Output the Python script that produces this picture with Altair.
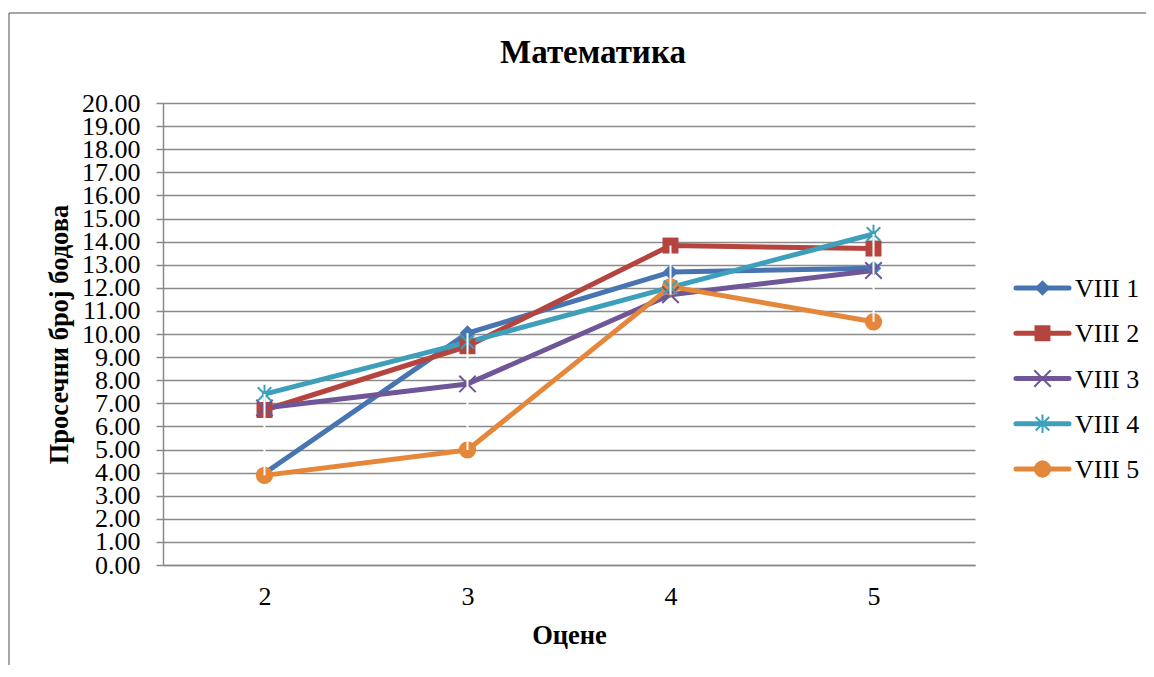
import altair as alt
import pandas as pd

grades = ["2", "3", "4", "5"]
series_names = ["VIII 1", "VIII 2", "VIII 3", "VIII 4", "VIII 5"]
viii_1 = [3.97, 10.04, 12.68, 12.85]
viii_2 = [6.71, 9.47, 13.83, 13.70]
viii_3 = [6.80, 7.84, 11.70, 12.75]
viii_4 = [7.40, 9.65, 12.02, 14.33]
viii_5 = [3.88, 4.98, 12.05, 10.53]
y_ticks = list(range(0, 21))
chart_title = ["Математика"]

colors = ["#4874B2", "#B5443F", "#6E5697", "#3E9FBA", "#E5873A"]
X_PATH = "M-1,-1L1,1M-1,1L1,-1"
AST_PATH = "M-0.8,-0.8L0.8,0.8M-0.8,0.8L0.8,-0.8M0,-1.1L0,1.1"
shapes = ["diamond", "square", X_PATH, AST_PATH, "circle"]
sizes = [240, 300, 220, 220, 400]

rows = []
for name, vals in zip(series_names, [viii_1, viii_2, viii_3, viii_4, viii_5]):
    for g, v in zip(grades, vals):
        rows.append({"grade": g, "value": v, "series": name})
df = pd.DataFrame(rows)
leg_df = pd.DataFrame({"series": series_names})
frame_df = pd.DataFrame({"title": chart_title})

FONT = "Liberation Serif"
GRID = "#8a8a8a"
LBL = 26
TTL = 26.5

color_scale = alt.Scale(domain=series_names, range=colors)
shape_scale = alt.Scale(domain=series_names, range=shapes)
size_scale = alt.Scale(domain=series_names, range=sizes)

x_axis = alt.Axis(title="Оцене", labelAngle=0, ticks=False, domainColor=GRID,
                  domainWidth=1.5, labelPadding=18, titlePadding=13,
                  labelFont=FONT, labelFontSize=LBL, labelColor="black",
                  titleFont=FONT, titleFontSize=TTL, titleFontWeight="bold",
                  titleColor="black", grid=False)
y_axis = alt.Axis(title="Просечни број бодова", values=y_ticks, format=".2f",
                  labelOverlap=False, labelBound=False,
                  grid=True, gridColor=GRID, gridWidth=1.5, domainColor=GRID,
                  domainWidth=1.5, tickColor=GRID, tickWidth=1.5, tickSize=7,
                  labelPadding=16, titlePadding=8, labelFont=FONT,
                  labelFontSize=LBL, labelColor="black", titleFont=FONT,
                  titleFontSize=TTL, titleFontWeight="bold", titleColor="black")
x_scale = alt.Scale(type="point", padding=0.5)
y_scale = alt.Scale(domain=[0, 20], nice=False, zero=True)


def xe():
    return alt.X("grade:O", sort=grades, scale=x_scale, axis=x_axis)


def ye(field="value"):
    return alt.Y(f"{field}:Q", scale=y_scale, axis=y_axis)


base = alt.Chart(df)
lines = base.mark_line(strokeWidth=5, strokeJoin="round", strokeCap="round").encode(
    x=xe(), y=ye(),
    color=alt.Color("series:N", scale=color_scale, legend=None),
    detail="series:N",
)
pts_filled = base.transform_filter(
    alt.FieldOneOfPredicate(field="series", oneOf=["VIII 1", "VIII 2", "VIII 5"])
).mark_point(filled=True, opacity=1).encode(
    x=xe(), y=ye(),
    color=alt.Color("series:N", scale=color_scale, legend=None),
    shape=alt.Shape("series:N", scale=shape_scale, legend=None),
    size=alt.Size("series:N", scale=size_scale, legend=None),
)
pts_stroked = base.transform_filter(
    alt.FieldOneOfPredicate(field="series", oneOf=["VIII 3", "VIII 4"])
).mark_point(filled=False, strokeWidth=2, opacity=1).encode(
    x=xe(), y=ye(),
    color=alt.Color("series:N", scale=color_scale, legend=None),
    shape=alt.Shape("series:N", scale=shape_scale, legend=None),
    size=alt.Size("series:N", scale=size_scale, legend=None),
)
hilo = base.transform_aggregate(
    lo="min(value)", hi="max(value)", groupby=["grade"]
).mark_rule(color="white", strokeWidth=2).encode(
    x=xe(), y=ye("lo"), y2="hi:Q"
)

main = alt.layer(lines, pts_filled, pts_stroked, hilo)

leg_y = alt.Y("series:N", sort=series_names,
              scale=alt.Scale(type="point", range=[185, 366], padding=0), axis=None)
leg_base = alt.Chart(leg_df)
leg_lines = leg_base.mark_rule(strokeWidth=5, strokeCap="round").encode(
    x=alt.value(853), x2=alt.value(906), y=leg_y,
    color=alt.Color("series:N", scale=color_scale, legend=None),
)
leg_pts_f = leg_base.transform_filter(
    alt.FieldOneOfPredicate(field="series", oneOf=["VIII 1", "VIII 2", "VIII 5"])
).mark_point(filled=True, opacity=1).encode(
    x=alt.value(879.5), y=leg_y,
    color=alt.Color("series:N", scale=color_scale, legend=None),
    shape=alt.Shape("series:N", scale=shape_scale, legend=None),
    size=alt.Size("series:N", scale=size_scale, legend=None),
)
leg_pts_s = leg_base.transform_filter(
    alt.FieldOneOfPredicate(field="series", oneOf=["VIII 3", "VIII 4"])
).mark_point(filled=False, strokeWidth=2, opacity=1).encode(
    x=alt.value(879.5), y=leg_y,
    color=alt.Color("series:N", scale=color_scale, legend=None),
    shape=alt.Shape("series:N", scale=shape_scale, legend=None),
    size=alt.Size("series:N", scale=size_scale, legend=None),
)
leg_text = leg_base.mark_text(align="left", baseline="middle", font=FONT,
                              fontSize=LBL, color="black", dy=1).encode(
    x=alt.value(912), y=leg_y, text="series:N"
)
legend = alt.layer(leg_lines, leg_pts_f, leg_pts_s, leg_text)

frame_left = alt.Chart(frame_df).mark_rule(color="#888888", strokeWidth=1.5).encode(
    x=alt.value(-154), y=alt.value(-90), y2=alt.value(620)
)
frame_top = alt.Chart(frame_df).mark_rule(color="#888888", strokeWidth=1.5).encode(
    x=alt.value(-154), x2=alt.value(1050), y=alt.value(-90)
)
title_text = alt.Chart(frame_df).mark_text(
    font=FONT, fontSize=33, fontWeight="bold", color="black",
    align="center", baseline="alphabetic"
).encode(x=alt.value(430), y=alt.value(-40), text="title:N")

chart = alt.layer(frame_left, frame_top, title_text, main, legend).resolve_scale(
    y="independent"
).properties(
    width=812, height=462,
    autosize=alt.AutoSizeParams(type="none"),
    padding={"left": 155, "top": 95, "right": 171, "bottom": 100},
).configure_view(stroke=None).configure_axis(
    labelFont=FONT, labelFontSize=LBL, labelColor="black",
    titleFont=FONT, titleFontSize=TTL, titleFontWeight="bold", titleColor="black"
)

chart.save("out.html", embed_options={"renderer": "svg", "actions": False})
